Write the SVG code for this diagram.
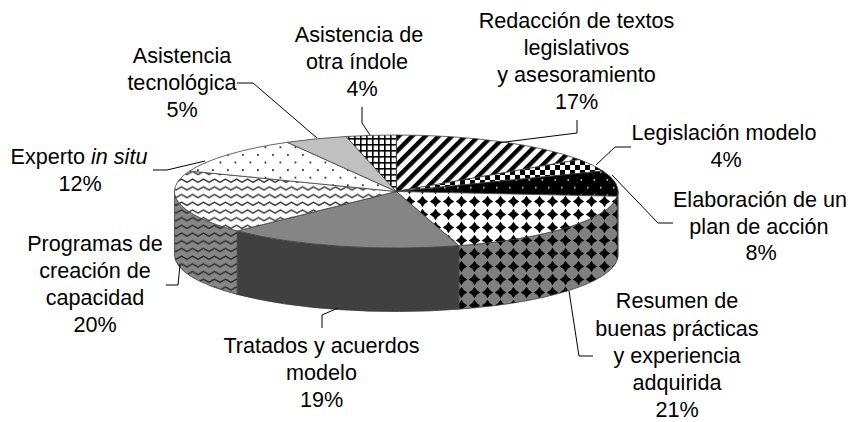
<svg xmlns="http://www.w3.org/2000/svg" width="851" height="422" viewBox="0 0 851 422">
<style>
.lbl{font-family:"Liberation Sans",Arial,sans-serif;font-size:21.6px;fill:#000;text-anchor:middle}
.edge{stroke:#404040;stroke-width:0.8;stroke-linejoin:round}
.lead{fill:none;stroke:#000;stroke-width:1}
</style>
<defs>
<pattern id="pStripe" width="9.4" height="9.4" patternUnits="userSpaceOnUse" patternTransform="rotate(45)">
<rect width="9.4" height="9.4" fill="#fff"/><rect width="4.4" height="9.4" fill="#000"/>
</pattern>
<pattern id="pCheck" width="10" height="10" patternUnits="userSpaceOnUse">
<rect width="10" height="10" fill="#fff"/><rect width="5" height="5" fill="#000"/><rect x="5" y="5" width="5" height="5" fill="#000"/>
</pattern>
<pattern id="pBlackDots" width="13" height="15.4" patternUnits="userSpaceOnUse">
<rect width="13" height="15.4" fill="#000"/><rect x="2" y="2" width="1.6" height="1.6" fill="#ccc"/><rect x="8.5" y="9.7" width="1.6" height="1.6" fill="#ccc"/>
</pattern>
<pattern id="pDia" width="13" height="13" patternUnits="userSpaceOnUse">
<rect width="13" height="13" fill="#fff"/><path d="M6.5,0.8 Q8.3,4.7 12.2,6.5 Q8.3,8.3 6.5,12.2 Q4.7,8.3 0.8,6.5 Q4.7,4.7 6.5,0.8Z" fill="#000"/>
</pattern>
<pattern id="pDiaSide" width="13" height="13" patternUnits="userSpaceOnUse">
<rect width="13" height="13" fill="#808080"/><path d="M6.5,0.8 Q8.3,4.7 12.2,6.5 Q8.3,8.3 6.5,12.2 Q4.7,8.3 0.8,6.5 Q4.7,4.7 6.5,0.8Z" fill="#000"/>
</pattern>
<pattern id="pWave" width="11" height="7.7" patternUnits="userSpaceOnUse">
<rect width="11" height="7.7" fill="#fff"/><path d="M-5.5,2 L0,5.2 L5.5,2 L11,5.2 L16.5,2" fill="none" stroke="#333" stroke-width="1.4" stroke-linejoin="round"/>
</pattern>
<pattern id="pWaveSide" width="11" height="7.7" patternUnits="userSpaceOnUse">
<rect width="11" height="7.7" fill="#868686"/><path d="M-5.5,2 L0,5.2 L5.5,2 L11,5.2 L16.5,2" fill="none" stroke="#2a2a2a" stroke-width="1.4" stroke-linejoin="round"/>
</pattern>
<pattern id="pDots" width="15" height="15.2" patternUnits="userSpaceOnUse">
<rect width="15" height="15.2" fill="#fff"/><rect x="2" y="2" width="1.8" height="1.8" fill="#333"/><rect x="9.5" y="9.6" width="1.8" height="1.8" fill="#333"/>
</pattern>
<pattern id="pGrid" width="6" height="6" patternUnits="userSpaceOnUse">
<rect width="6" height="6" fill="#fff"/><rect width="6" height="1.6" fill="#000"/><rect width="1.6" height="6" fill="#000"/>
</pattern>
</defs>
<rect width="851" height="422" fill="#fff"/>

<g id="slice-redaccion">
<path class="edge" fill="url(#pStripe)" d="M396.3,191.5 L396.3,135 A221.8,56.5 0 0 1 579.4,159.6 Z"/>
<text class="lbl" x="576.5" y="27.5">Redacción de textos</text>
<text class="lbl" x="576.5" y="54.7">legislativos</text>
<text class="lbl" x="576.5" y="81.9">y asesoramiento</text>
<text class="lbl" x="576.5" y="109.1">17%</text>
</g>
<g id="slice-legislacion">
<path class="edge" fill="url(#pCheck)" d="M396.3,191.5 L579.4,159.6 A221.8,56.5 0 0 1 603,171 Z"/>
<text class="lbl" x="724" y="140">Legislación modelo</text>
<text class="lbl" x="726" y="166.7">4%</text>
</g>
<g id="slice-elaboracion">
<path class="edge" fill="#000" d="M618.1,191.5 A221.8,56.5 0 0 1 617.3,196.3 L617.3,259.8 A221.8,56.5 0 0 0 618.1,255 Z"/>
<path class="edge" fill="url(#pBlackDots)" d="M396.3,191.5 L603,171 A221.8,56.5 0 0 1 617.3,196.3 Z"/>
<text class="lbl" x="760" y="206.7">Elaboración de un</text>
<text class="lbl" x="759" y="233.5">plan de acción</text>
<text class="lbl" x="761" y="260.3">8%</text>
</g>
<g id="slice-resumen">
<path class="edge" fill="url(#pDiaSide)" d="M617.3,196.3 A221.8,56.5 0 0 1 458.8,245.7 L458.8,309.2 A221.8,56.5 0 0 0 617.3,259.8 Z"/>
<path class="edge" fill="url(#pDia)" d="M396.3,191.5 L617.3,196.3 A221.8,56.5 0 0 1 458.8,245.7 Z"/>
<text class="lbl" x="677" y="308.3">Resumen de</text>
<text class="lbl" x="677" y="335.5">buenas prácticas</text>
<text class="lbl" x="677" y="362.7">y experiencia</text>
<text class="lbl" x="677" y="389.9">adquirida</text>
<text class="lbl" x="677" y="417">21%</text>
</g>
<g id="slice-tratados">
<path class="edge" fill="#404040" d="M458.8,245.7 A221.8,56.5 0 0 1 237.2,230.9 L237.2,294.4 A221.8,56.5 0 0 0 458.8,309.2 Z"/>
<path class="edge" fill="#858585" d="M396.3,191.5 L458.8,245.7 A221.8,56.5 0 0 1 237.2,230.9 Z"/>
<text class="lbl" x="321.5" y="352.7">Tratados y acuerdos</text>
<text class="lbl" x="321.5" y="380">modelo</text>
<text class="lbl" x="321.5" y="407.3">19%</text>
</g>
<g id="slice-programas">
<path class="edge" fill="url(#pWaveSide)" d="M237.2,230.9 A221.8,56.5 0 0 1 174.5,191.5 L174.5,255 A221.8,56.5 0 0 0 237.2,294.4 Z"/>
<path class="edge" fill="url(#pWave)" d="M396.3,191.5 L237.2,230.9 A221.8,56.5 0 0 1 189.6,171 Z"/>
<text class="lbl" x="95" y="250.7">Programas de</text>
<text class="lbl" x="95" y="277.9">creación de</text>
<text class="lbl" x="95" y="305.1">capacidad</text>
<text class="lbl" x="95" y="332.3">20%</text>
</g>
<g id="slice-experto">
<path class="edge" fill="url(#pDots)" d="M396.3,191.5 L189.6,171 A221.8,56.5 0 0 1 287.2,142.3 Z"/>
<text class="lbl" x="79" y="164">Experto <tspan font-style="italic">in situ</tspan></text>
<text class="lbl" x="80" y="191">12%</text>
</g>
<g id="slice-tecnologica">
<path class="edge" fill="#c0c0c0" d="M396.3,191.5 L287.2,142.3 A221.8,56.5 0 0 1 346.1,136.5 Z"/>
<text class="lbl" x="182" y="63.3">Asistencia</text>
<text class="lbl" x="182" y="90.3">tecnológica</text>
<text class="lbl" x="182" y="117.3">5%</text>
</g>
<g id="slice-otra">
<path class="edge" fill="url(#pGrid)" d="M396.3,191.5 L346.1,136.5 A221.8,56.5 0 0 1 396.3,135 Z"/>
<text class="lbl" x="359" y="41.7">Asistencia de</text>
<text class="lbl" x="357" y="69">otra índole</text>
<text class="lbl" x="362" y="96.3">4%</text>
</g>

<g id="connectors">
<polyline class="lead" points="577,120 577,133 497,143"/>
<polyline class="lead" points="631,147 615,147 596,165"/>
<polyline class="lead" points="612,175 658,223 673,223"/>
<polyline class="lead" points="569,291 579,356 593,356"/>
<polyline class="lead" points="322,328 322,315 338,308"/>
<polyline class="lead" points="166,285 178,285 180,265"/>
<polyline class="lead" points="153,170 167,170 205,161"/>
<polyline class="lead" points="237,83 253,83 317,138"/>
<polyline class="lead" points="362,107 362,123 370,135"/>
</g>
</svg>
